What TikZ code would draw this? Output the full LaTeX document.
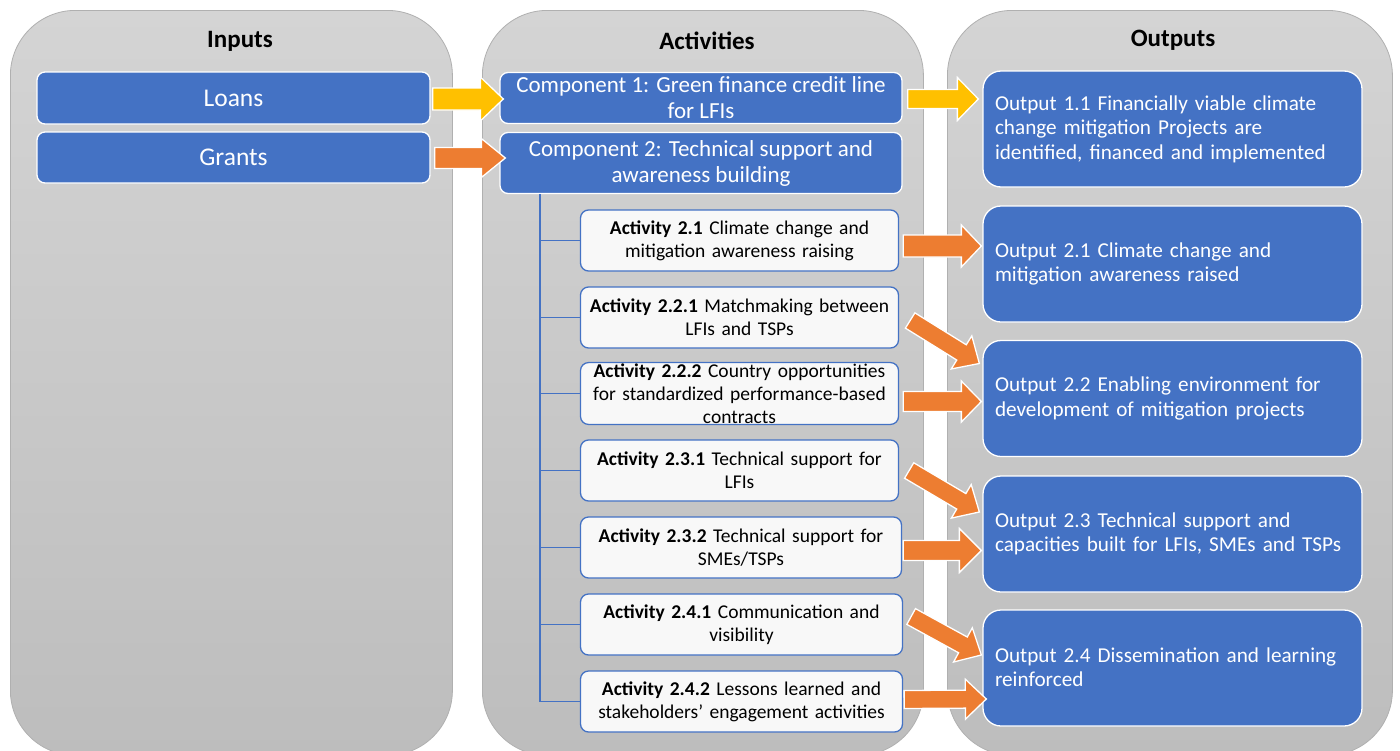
\documentclass[tikz,border=0pt]{standalone}
\usepackage{fontspec}
\setmainfont{Carlito}
\usetikzlibrary{calc}

\definecolor{boxblue}{HTML}{4472C4}
\definecolor{arrorange}{HTML}{ED7D31}
\definecolor{arryellow}{HTML}{FFC000}
\definecolor{coltop}{HTML}{D4D4D4}
\definecolor{colbot}{HTML}{BDBDBD}
\definecolor{coledge}{HTML}{B0B0B0}
\definecolor{actfill}{HTML}{F8F8F8}

% block arrow: colour, tail, tip, shaft half-width, head half-width, head length (pt)
\newcommand\blockarrow[6]{%
  \coordinate (ba-base) at ($(#3)!#6pt!(#2)$);
  \filldraw[fill=#1, draw=white, line width=1.3pt, line join=miter]
    ($(#2)!#4pt!90:(#3)$) -- ($(ba-base)!#4pt!90:(#3)$) --
    ($(ba-base)!#5pt!90:(#3)$) -- (#3) --
    ($(ba-base)!#5pt!-90:(#3)$) -- ($(ba-base)!#4pt!-90:(#3)$) --
    ($(#2)!#4pt!-90:(#3)$) -- cycle;
}

\tikzset{
  column/.style={rectangle, rounded corners=65pt, top color=coltop, bottom color=colbot,
    draw=coledge, line width=0.8pt, anchor=north west, minimum width=442pt, minimum height=745pt},
  coltitle/.style={font=\fontsize{25}{30}\selectfont\bfseries, text=black},
  bluebox/.style={rectangle, rounded corners=8pt, fill=boxblue, draw=white, line width=1.3pt,
    text=white, align=center, inner sep=2pt},
  inbox/.style={bluebox, minimum width=393pt, font=\fontsize{25.5}{30}\selectfont},
  compbox/.style={bluebox, minimum width=402pt, font=\fontsize{23}{26}\selectfont},
  actbox/.style={rectangle, rounded corners=8pt, fill=actfill, draw=boxblue, line width=1.3pt,
    align=center, inner sep=1pt, minimum height=61pt, text width=316pt,
    font=\fontsize{19.5}{23}\selectfont},
  outbox/.style={rectangle, rounded corners=18pt, fill=boxblue, draw=white, line width=1.3pt,
    text=white, align=left, inner xsep=12pt, inner ysep=2pt, text width=355pt,
    minimum width=379pt, minimum height=116pt, font=\fontsize{21.2}{24.5}\selectfont},
  treeline/.style={draw=boxblue, line width=1.4pt},
}

\newcommand\lift{\rule[-2pt]{0pt}{2pt}}

\begin{document}
\begin{tikzpicture}[x=1pt, y=-1pt]
\useasboundingbox (0,0) rectangle (1400,750);
\fill[white] (0,0) rectangle (1400,750);

% the three columns
\begin{scope}
  \clip (0,0) rectangle (1400,750);
  \node[column] (colin)  at (10,10)  {};
  \node[column, minimum width=441pt] (colact) at (482,10) {};
  \node[column, minimum width=445pt] (colout) at (947,10) {};
\end{scope}

\node[coltitle] (tin)  at (240,41)  {Inputs};
\node[coltitle] (tact) at (707,41)  {Activities};
\node[coltitle] (tout) at (1173,40) {Outputs};

% inputs
\node[inbox, minimum height=52pt] (loans)  at (233.5,98)  {Loans};
\node[inbox, minimum height=51pt] (grants) at (233.5,157.5) {Grants};

% components
\node[compbox, minimum height=51pt] (c1) at (701,98)
  {Component 1: Green finance credit line\\for LFIs};
\node[compbox, minimum height=61pt] (c2) at (701,163)
  {Component 2: Technical support and\\awareness building};

% activities
\node[actbox] (a21)  at (739.5,240.5)
  {\textbf{Activity 2.1} Climate change and\\mitigation awareness raising};
\node[actbox] (a221) at (739.5,317.5)
  {\textbf{Activity 2.2.1} Matchmaking between\\LFIs and TSPs};
\node[actbox] (a222) at (739.5,393.5)
  {\textbf{Activity 2.2.2} Country opportunities\\for standardized performance-based\\contracts};
\node[actbox] (a231) at (739.5,470.5)
  {\textbf{Activity 2.3.1} Technical support for\\LFIs};
\node[actbox, text width=319pt] (a232) at (741,547.5)
  {\textbf{Activity 2.3.2} Technical support for\\SMEs/TSPs};
\node[actbox, text width=320pt] (a241) at (741.5,624.5)
  {\textbf{Activity 2.4.1} Communication and\\visibility};
\node[actbox, text width=320pt] (a242) at (741.5,701.5)
  {\textbf{Activity 2.4.2} Lessons learned and\\stakeholders’ engagement activities};

% outputs
\node[outbox] (o11) at (1172.5,129)
  {Output 1.1 Financially viable climate\\change mitigation Projects are\\identified, financed and implemented\lift};
\node[outbox] (o21) at (1172.5,264)
  {Output 2.1 Climate change and\\mitigation awareness raised\lift};
\node[outbox] (o22) at (1172.5,398.5)
  {Output 2.2 Enabling environment for\\development of mitigation projects\lift};
\node[outbox] (o23) at (1172.5,534)
  {Output 2.3 Technical support and\\\mbox{capacities built for LFIs, SMEs and TSPs}\lift};
\node[outbox] (o24) at (1172.5,668)
  {Output 2.4 Dissemination and learning\\reinforced\lift};

% tree joining component 2 to its activities
\coordinate (tx) at (540,0);
\coordinate (trunktop) at (c2.south -| tx);
\draw[treeline] (trunktop) |- (a242.west);
\foreach \n in {a21,a221,a222,a231,a232,a241}
  \draw[treeline] (\n.west -| tx) -- (\n.west);

% block arrows
\coordinate (t1) at ($(loans.east)+(2,1)$);   \coordinate (h1) at ($(c1.west)+(4,1)$);
\coordinate (t2) at ($(grants.east)+(4,0.5)$); \coordinate (h2) at ($(c2.west)+(6,-5)$);
\coordinate (t3) at ($(c1.east)+(5,1)$);      \coordinate (h3) at ($(o11.west)+(-4,-30)$);
\coordinate (t4) at ($(a21.east)+(4,5.5)$);   \coordinate (h4) at ($(o21.west)+(-1,-18)$);
\coordinate (t5) at ($(a221.east)+(11,3)$);   \coordinate (h5) at ($(o22.west)+(-3,-35)$);
\coordinate (t6) at ($(a222.east)+(4,8)$);    \coordinate (h6) at ($(o22.west)+(-1,3)$);
\coordinate (t7) at ($(a231.east)+(10,0)$);   \coordinate (h7) at ($(o23.west)+(-3,-22)$);
\coordinate (t8) at ($(a232.east)+(1,3)$);    \coordinate (h8) at ($(o23.west)+(-1,16.5)$);
\coordinate (t9) at ($(a241.east)+(8,-8)$);   \coordinate (h9) at ($(o24.west)+(-1,-13)$);
\coordinate (t10) at ($(a242.east)+(1,-2)$);  \coordinate (h10) at ($(o24.west)+(4,31)$);

\blockarrow{arryellow}{t1}{h1}{11}{22}{23}
\blockarrow{arrorange}{t2}{h2}{10.5}{19.5}{24}
\blockarrow{arryellow}{t3}{h3}{9.5}{21.5}{21}
\blockarrow{arrorange}{t4}{h4}{11}{21}{20}
\blockarrow{arrorange}{t5}{h5}{9}{19.5}{21}
\blockarrow{arrorange}{t6}{h6}{10}{20.5}{20}
\blockarrow{arrorange}{t7}{h7}{9}{19.5}{21}
\blockarrow{arrorange}{t8}{h8}{10}{22}{22}
\blockarrow{arrorange}{t9}{h9}{9}{19.5}{21}
\blockarrow{arrorange}{t10}{h10}{9}{20}{21}
\end{tikzpicture}
\end{document}
